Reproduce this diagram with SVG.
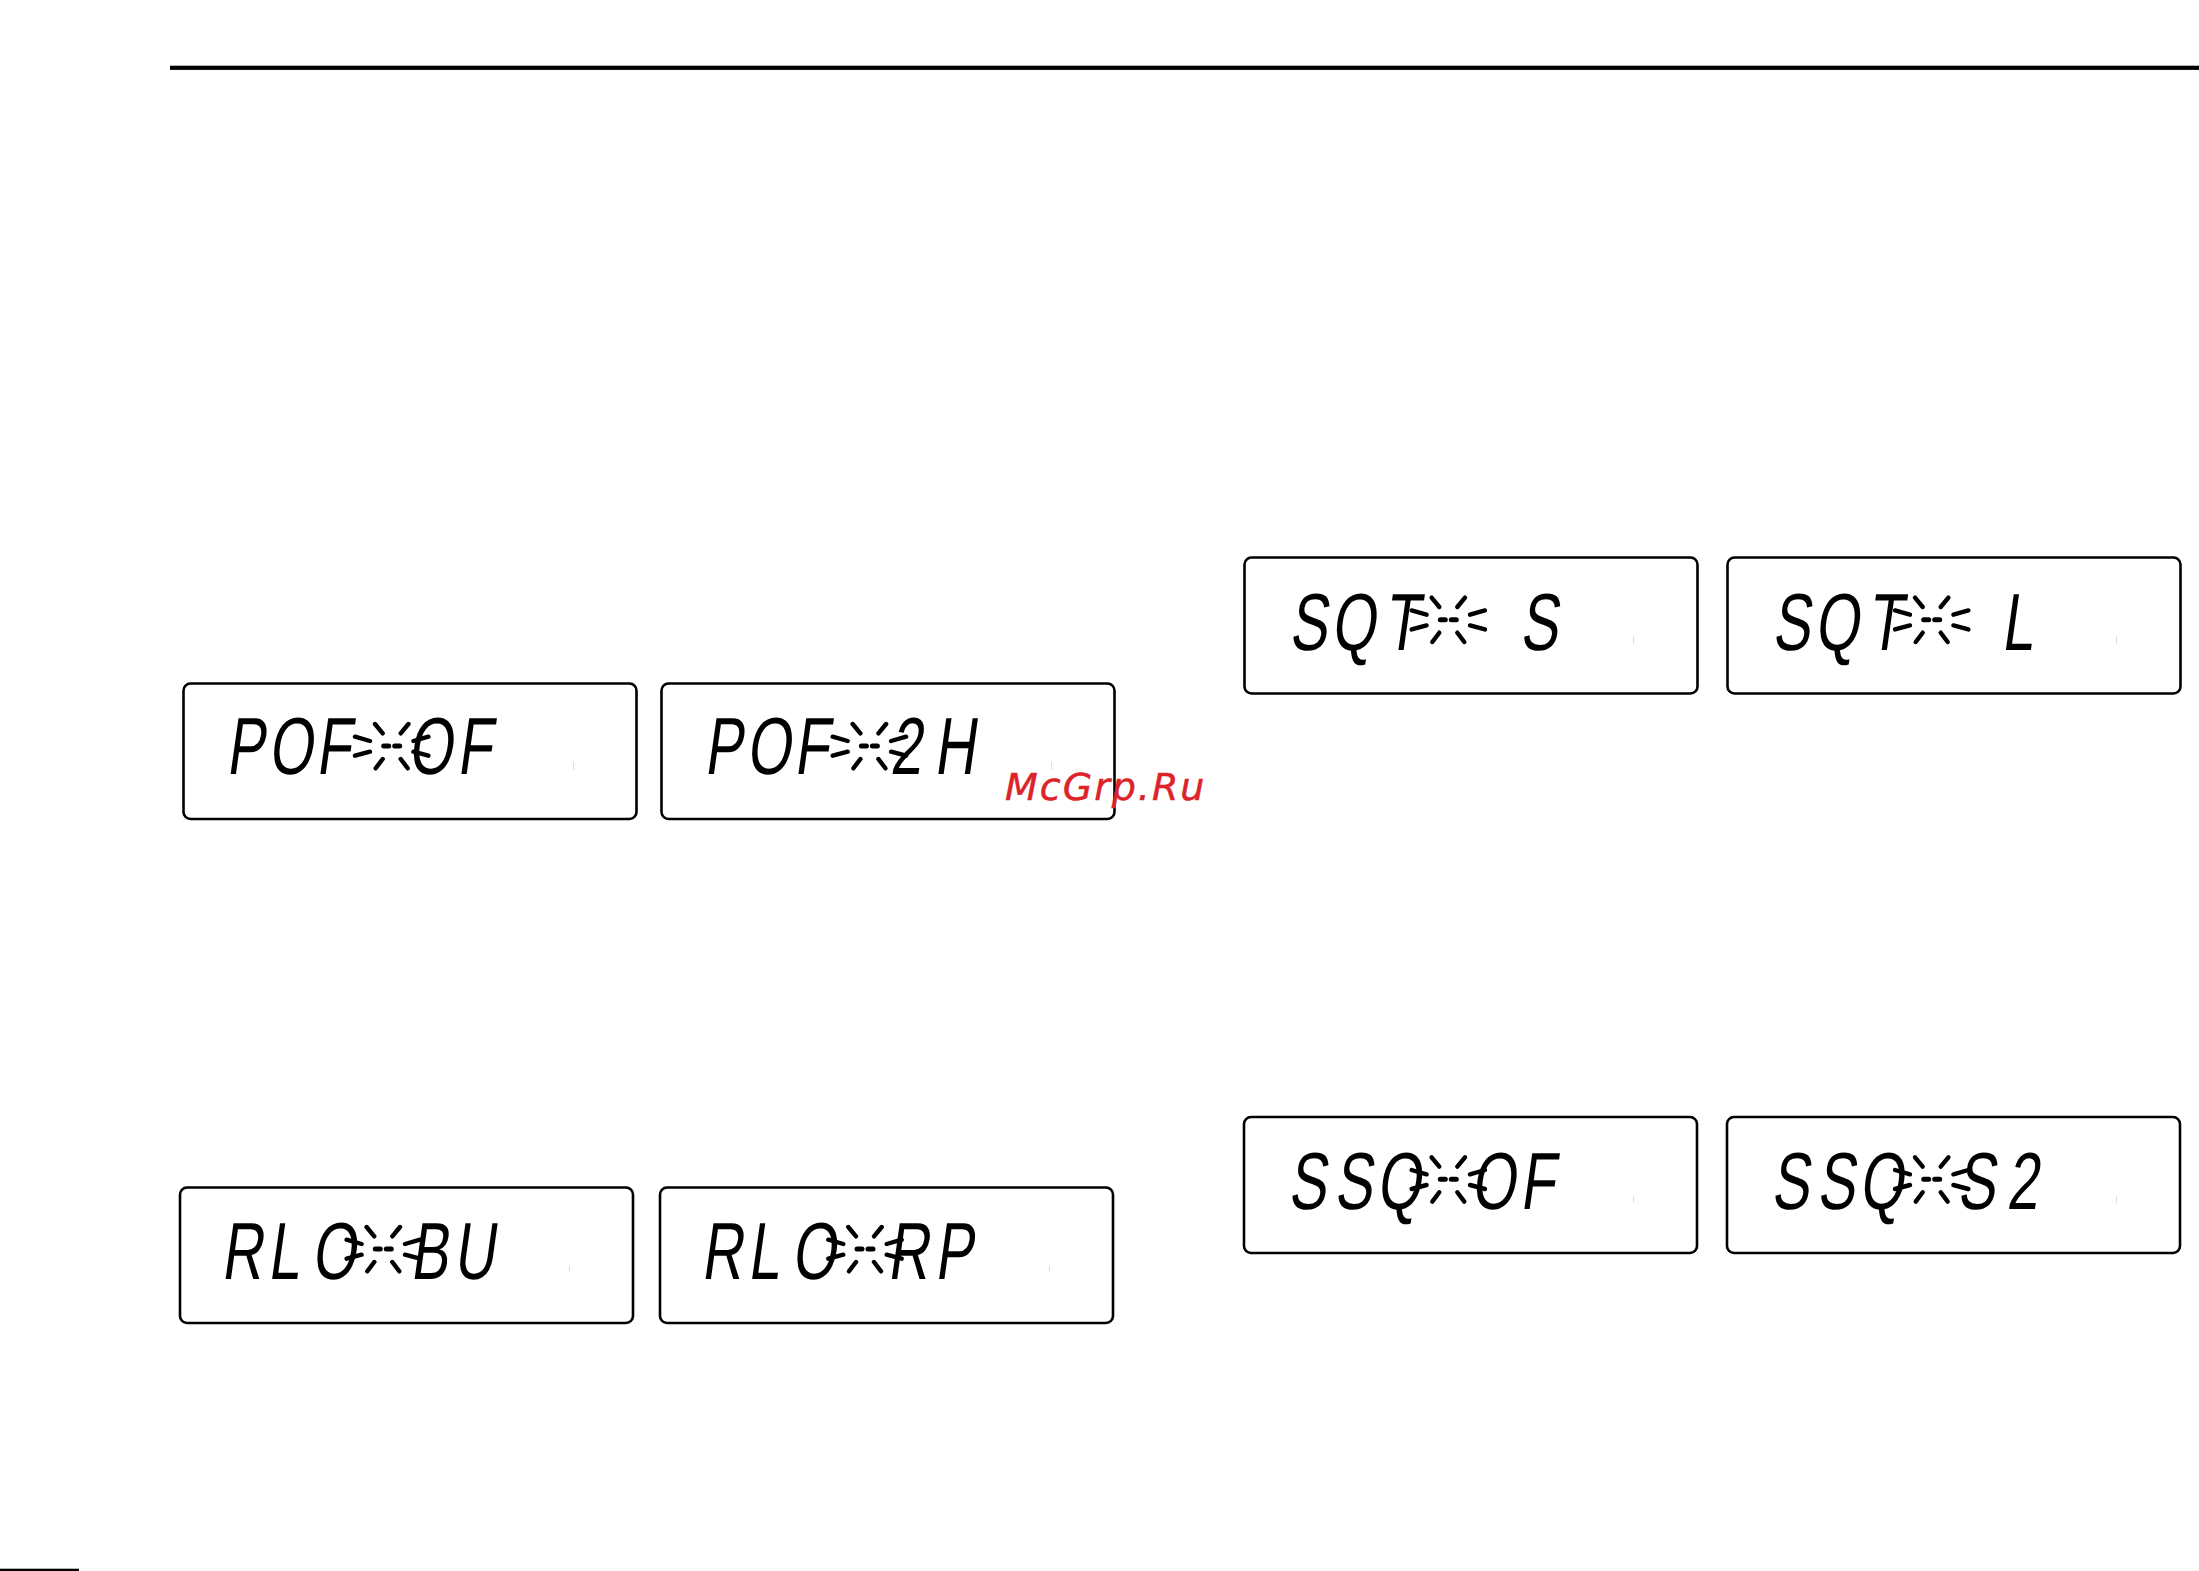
<svg xmlns="http://www.w3.org/2000/svg" width="2199" height="1571" viewBox="0 0 2199 1571">
<style>
.box{fill:#fff;stroke:#000;stroke-width:2.6}
.lcd{font-family:"Liberation Sans",Arial,sans-serif;font-size:81px;fill:#000;text-anchor:middle}
.ray{stroke:#000;stroke-width:4.4;stroke-linecap:round;fill:none}
.dot{stroke:#000;stroke-width:5;stroke-linecap:round;fill:none}
.tick{stroke:#ddd;stroke-width:1}
.mark{font-family:"DejaVu Sans",sans-serif;font-style:oblique;font-size:38px;letter-spacing:2px;fill:#dc2329;stroke:#dc2329;stroke-width:.5}
</style>
<defs>
<g id="star">
<path class="ray" d="M-16.7-23L-9-13.7M16.7-23L9-13.7M-16 21.3L-9 12M16 21.3L9 12M-36.7-10.3L-21.7-6M36.7-10.3L21.7-6M-36.7 8.7L-21.7 4.7M36.7 8.7L21.7 4.7"/>
<path class="dot" d="M-8-1H-3M3-1H8"/>
</g>
</defs>
<rect width="2199" height="1571" fill="#fff"/>
<g id="rules">
<rect x="170" y="65.7" width="2029" height="4.2" fill="#000"/>
<rect x="0" y="1568.7" width="79" height="2.3" fill="#000"/>
</g>
<g id="display-pof-of">
<rect class="box" x="183.5" y="683.5" width="453" height="135.5" rx="7"/>
<text class="lcd" transform="translate(245,774) skewX(-8) scale(.7,1)" x="0 64.3 126 195 264.1 327.4">POF OF</text>
<use href="#star" x="391.7" y="747"/>
<line class="tick" x1="573.5" y1="762" x2="573.5" y2="770"/>
</g>
<g id="display-pof-2h">
<rect class="box" x="661.5" y="683.5" width="453" height="135.5" rx="7"/>
<text class="lcd" transform="translate(723,774) skewX(-8) scale(.7,1)" x="0 64.3 126 195 260.7 330.4">POF 2H</text>
<use href="#star" x="869.4" y="747"/>
<line class="tick" x1="1051.5" y1="762" x2="1051.5" y2="770"/>
</g>
<g id="display-rlo-bu">
<rect class="box" x="180" y="1187.5" width="453" height="135.5" rx="7"/>
<text class="lcd" transform="translate(241.5,1279) skewX(-8) scale(.7,1)" x="0 59.6 131 195 267.6 331.9">RLO BU</text>
<use href="#star" x="383.3" y="1250"/>
<line class="tick" x1="569.5" y1="1266" x2="569.5" y2="1272"/>
</g>
<g id="display-rlo-rp">
<rect class="box" x="660" y="1187.5" width="453" height="135.5" rx="7"/>
<text class="lcd" transform="translate(721.5,1279) skewX(-8) scale(.7,1)" x="0 59.6 131 195 266.2 331.4">RLO RP</text>
<use href="#star" x="865" y="1250"/>
<line class="tick" x1="1049.5" y1="1266" x2="1049.5" y2="1272"/>
</g>
<g id="display-sqt-s">
<rect class="box" x="1244.5" y="557.5" width="453" height="136" rx="7"/>
<text class="lcd" transform="translate(1308,650) skewX(-8) scale(.7,1)" x="0 63.9 132.9 230 329.6">SQT S</text>
<use href="#star" x="1448.3" y="620.7"/>
<line class="tick" x1="1633.5" y1="636" x2="1633.5" y2="644"/>
</g>
<g id="display-sqt-l">
<rect class="box" x="1727.5" y="557.5" width="453" height="136" rx="7"/>
<text class="lcd" transform="translate(1791,650) skewX(-8) scale(.7,1)" x="0 64.7 133.3 230 322.8">SQT L</text>
<use href="#star" x="1931.7" y="620.7"/>
<line class="tick" x1="2116.5" y1="636" x2="2116.5" y2="644"/>
</g>
<g id="display-ssq-of">
<rect class="box" x="1244" y="1117" width="453" height="136" rx="7"/>
<text class="lcd" transform="translate(1307,1209) skewX(-8) scale(.7,1)" x="0 65.7 130.5 195 265.3 328.6">SSQ OF</text>
<use href="#star" x="1448.3" y="1180.3"/>
<line class="tick" x1="1633.5" y1="1196" x2="1633.5" y2="1203"/>
</g>
<g id="display-ssq-s2">
<rect class="box" x="1727" y="1117" width="453" height="136" rx="7"/>
<text class="lcd" transform="translate(1790,1209) skewX(-8) scale(.7,1)" x="0 65.3 129.6 195 265.7 331.4">SSQ S2</text>
<use href="#star" x="1931.7" y="1180.3"/>
<line class="tick" x1="2116.5" y1="1196" x2="2116.5" y2="1203"/>
</g>
<text id="watermark" class="mark" x="1005" y="800">McGrp.Ru</text>
</svg>
